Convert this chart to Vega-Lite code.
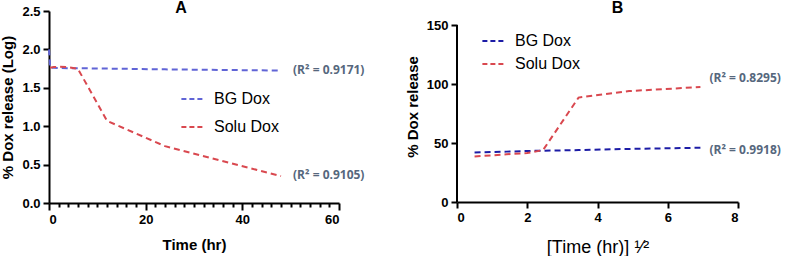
{
  "$schema": "https://vega.github.io/schema/vega-lite/v6.json",
  "padding": {"left": 0, "top": 0, "right": 0, "bottom": 0},
  "background": "white",
  "datasets": {
    "A": [
      {"series": "BG Dox", "t": 0, "v": 2.0},
      {"series": "BG Dox", "t": 0.25, "v": 1.76},
      {"series": "BG Dox", "t": 0.5, "v": 1.76},
      {"series": "BG Dox", "t": 1, "v": 1.76},
      {"series": "BG Dox", "t": 2, "v": 1.758},
      {"series": "BG Dox", "t": 4, "v": 1.756},
      {"series": "BG Dox", "t": 6, "v": 1.755},
      {"series": "BG Dox", "t": 12, "v": 1.75},
      {"series": "BG Dox", "t": 24, "v": 1.74},
      {"series": "BG Dox", "t": 48, "v": 1.725},
      {"series": "Solu Dox", "t": 0.25, "v": 1.76},
      {"series": "Solu Dox", "t": 0.5, "v": 1.765},
      {"series": "Solu Dox", "t": 1, "v": 1.77},
      {"series": "Solu Dox", "t": 2, "v": 1.775},
      {"series": "Solu Dox", "t": 4, "v": 1.77},
      {"series": "Solu Dox", "t": 6, "v": 1.745},
      {"series": "Solu Dox", "t": 12, "v": 1.07},
      {"series": "Solu Dox", "t": 24, "v": 0.74},
      {"series": "Solu Dox", "t": 48, "v": 0.35}
    ],
    "B": [
      {"series": "BG Dox", "t": 0.5, "v": 42},
      {"series": "BG Dox", "t": 0.71, "v": 42.2},
      {"series": "BG Dox", "t": 1, "v": 42.4},
      {"series": "BG Dox", "t": 1.41, "v": 42.7},
      {"series": "BG Dox", "t": 2, "v": 43.2},
      {"series": "BG Dox", "t": 2.45, "v": 43.5},
      {"series": "BG Dox", "t": 3.46, "v": 44},
      {"series": "BG Dox", "t": 4.9, "v": 45},
      {"series": "BG Dox", "t": 6.93, "v": 46},
      {"series": "Solu Dox", "t": 0.5, "v": 38.5},
      {"series": "Solu Dox", "t": 0.71, "v": 39},
      {"series": "Solu Dox", "t": 1, "v": 39.5},
      {"series": "Solu Dox", "t": 1.41, "v": 40.5},
      {"series": "Solu Dox", "t": 2, "v": 41.5},
      {"series": "Solu Dox", "t": 2.45, "v": 44},
      {"series": "Solu Dox", "t": 3.46, "v": 88.5},
      {"series": "Solu Dox", "t": 4.9, "v": 94},
      {"series": "Solu Dox", "t": 6.93, "v": 97.5}
    ],
    "annA": [
      {"series": "BG Dox", "t": 48, "v": 1.735, "label": "(R² = 0.9171)"},
      {"series": "Solu Dox", "t": 48, "v": 0.36, "label": "(R² = 0.9105)"}
    ],
    "annB": [
      {"series": "Solu Dox", "t": 6.93, "v": 105, "label": "(R² = 0.8295)"},
      {"series": "BG Dox", "t": 6.93, "v": 44, "label": "(R² = 0.9918)"}
    ],
    "axisB": [
      {"t": 0, "v": 0, "v2": 150}
    ]
  },
  "config": {
    "view": {"stroke": null},
    "font": "Liberation Sans",
    "axis": {
      "domainColor": "black", "domainWidth": 2, "tickColor": "black", "tickWidth": 2,
      "labelColor": "black", "labelFontWeight": "bold", "labelFontSize": 13, "labelFont": "Liberation Sans",
      "titleColor": "black", "titleFontWeight": "bold", "titleFontSize": 15, "titleFont": "Liberation Sans",
      "grid": false, "tickSize": 6, "labelPadding": 3, "labelOverlap": false, "tickCount": 100
    },
    "legend": {
      "labelFontSize": 16, "labelColor": "black", "labelFont": "Liberation Sans",
      "symbolType": "stroke", "symbolStrokeWidth": 2, "symbolDash": [5, 3], "symbolSize": 450,
      "rowPadding": 6, "labelOffset": 10, "title": null
    },
    "title": {"fontSize": 16, "fontWeight": "bold", "color": "black", "font": "Liberation Sans"}
  },
  "hconcat": [
    {
      "width": 290, "height": 192,
      "title": {"text": "A", "offset": -11, "dx": -13},
      "layer": [
        {
          "data": {"name": "A"},
          "mark": {"type": "line", "strokeDash": [6, 4], "strokeWidth": 2},
          "encoding": {
            "x": {"field": "t", "type": "quantitative", "scale": {"domain": [0, 60], "nice": false},
              "axis": {"title": "Time (hr)", "values": [0,2,4,6,8,10,12,14,16,18,20,22,24,26,28,30,32,34,36,38,40,42,44,46,48,50,52,54,56,58,60],
                "tickCount": 100, "format": "d",
                "labelExpr": "datum.value % 20 === 0 ? datum.label : ''",
                "labelOverlap": false, "labelBound": false,
                "tickSize": 7,
                "tickDash": {"condition": {"test": "datum.value % 20 === 0", "value": [20, 1]}, "value": [4, 20]},
                "titlePadding": 11}},
            "y": {"field": "v", "type": "quantitative", "scale": {"domain": [0, 2.5], "nice": false},
              "axis": {"title": "% Dox release (Log)", "values": [0, 0.5, 1, 1.5, 2, 2.5], "tickCount": 100, "format": ".1f", "labelOverlap": false, "labelBound": false, "titlePadding": 6}},
            "color": {"field": "series", "type": "nominal",
              "scale": {"domain": ["BG Dox", "Solu Dox"], "range": ["#6064d6", "#d9484f"]},
              "legend": {"orient": "none", "legendX": 131, "legendY": 76, "rowPadding": 8}}
          }
        },
        {
          "data": {"name": "annA"},
          "mark": {"type": "text", "align": "left", "baseline": "middle", "dx": 12, "fontSize": 12, "fontWeight": "bold", "font": "Open Sans", "color": "#56677d"},
          "encoding": {
            "x": {"field": "t", "type": "quantitative"},
            "y": {"field": "v", "type": "quantitative"},
            "text": {"field": "label"}
          }
        }
      ]
    },
    {
      "width": 281, "height": 191,
      "title": {"text": "B", "offset": -5, "dx": 20},
      "layer": [
        {
          "data": {"name": "B"},
          "mark": {"type": "line", "strokeDash": [6, 4], "strokeWidth": 2},
          "encoding": {
            "x": {"field": "t", "type": "quantitative", "scale": {"domain": [0, 8], "nice": false},
              "axis": {"title": "[Time (hr)] ¹⁄²", "values": [0, 2, 4, 6, 8], "tickCount": 100, "format": "d", "labelOverlap": false, "labelBound": false, "titleFontWeight": "normal", "titleFontSize": 18, "titlePadding": 14}},
            "y": {"field": "v", "type": "quantitative", "scale": {"domain": [0, 161.9], "nice": false},
              "axis": {"title": "% Dox release", "values": [0, 50, 100, 150], "tickCount": 100, "format": "d", "domain": false, "labelOverlap": false, "labelBound": false, "titlePadding": 6}},
            "color": {"field": "series", "type": "nominal",
              "scale": {"domain": ["BG Dox", "Solu Dox"], "range": ["#1c1ca6", "#d9484f"]},
              "legend": {"orient": "none", "legendX": 24, "legendY": 18, "rowPadding": 3}}
          }
        },
        {
          "data": {"name": "axisB"},
          "mark": {"type": "rule", "color": "black", "strokeWidth": 2},
          "encoding": {
            "x": {"field": "t", "type": "quantitative"},
            "y": {"field": "v", "type": "quantitative"},
            "y2": {"field": "v2"}
          }
        },
        {
          "data": {"name": "annB"},
          "mark": {"type": "text", "align": "left", "baseline": "middle", "dx": 9, "fontSize": 12, "fontWeight": "bold", "font": "Open Sans", "color": "#56677d"},
          "encoding": {
            "x": {"field": "t", "type": "quantitative"},
            "y": {"field": "v", "type": "quantitative"},
            "text": {"field": "label"}
          }
        }
      ]
    }
  ],
  "resolve": {"scale": {"color": "independent"}, "legend": {"color": "independent"}},
  "spacing": 40
}
